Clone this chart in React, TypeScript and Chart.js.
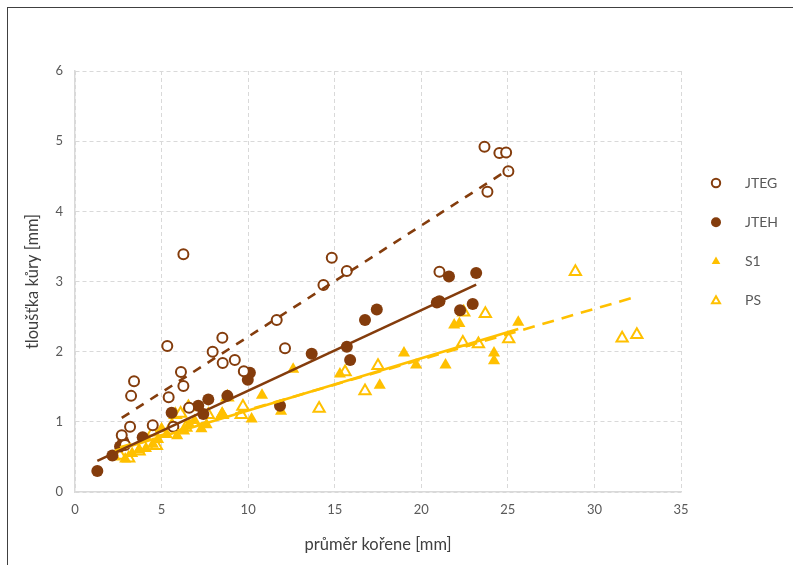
import React, { useEffect, useRef } from 'react';
import { Chart, registerables } from 'chart.js';
import { drawPoint } from 'chart.js/helpers';

Chart.register(...registerables);

// ---- data ----
const jtegX = [2.70, 2.89, 3.18, 3.24, 3.41, 4.49, 5.33, 5.41, 5.68, 6.12, 6.26, 6.26, 6.59, 7.95, 8.51, 8.53, 9.23, 9.75, 11.65, 12.13, 14.35, 14.83, 15.7, 21.05, 23.65, 23.82, 24.51, 24.9, 25.03];
const jtegY = [0.81, 0.67, 0.93, 1.37, 1.58, 0.95, 2.08, 1.35, 0.93, 1.71, 1.51, 3.39, 1.20, 2.00, 2.20, 1.84, 1.88, 1.72, 2.45, 2.05, 2.95, 3.34, 3.15, 3.14, 4.92, 4.28, 4.83, 4.84, 4.57];

const jtehX = [1.29, 2.16, 2.6, 2.79, 3.91, 5.58, 7.12, 7.41, 7.70, 8.8, 9.98, 10.1, 11.84, 13.67, 15.7, 15.89, 16.75, 17.43, 20.9, 21.05, 21.6, 22.24, 22.97, 23.17];
const jtehY = [0.30, 0.52, 0.65, 0.72, 0.78, 1.13, 1.23, 1.11, 1.32, 1.37, 1.60, 1.70, 1.23, 1.97, 2.07, 1.88, 2.45, 2.60, 2.70, 2.72, 3.07, 2.59, 2.68, 3.12];

const s1X = [2.3, 2.9, 3.3, 3.7, 4.1, 4.5, 4.8, 5.0, 5.3, 5.6, 5.9, 6.3, 6.6, 6.9, 7.3, 7.6, 8.5, 10.2, 10.8, 11.9, 12.6, 15.3, 17.6, 19.0, 19.7, 21.4, 21.9, 22.2, 24.2, 24.2, 25.6];
const s1Y = [0.50, 0.47, 0.55, 0.60, 0.62, 0.68, 0.75, 0.90, 0.82, 0.97, 0.80, 0.87, 0.97, 1.02, 0.90, 0.96, 1.12, 1.04, 1.38, 1.15, 1.75, 1.68, 1.52, 1.98, 1.81, 1.81, 2.38, 2.40, 1.98, 1.87, 2.42];

const psX = [2.6, 3.1, 3.7, 4.5, 4.7, 5.8, 6.1, 6.4, 6.55, 7.7, 8.5, 8.8, 9.6, 9.7, 14.1, 15.6, 16.75, 17.5, 22.4, 22.45, 23.3, 23.7, 25.05, 28.9, 31.6, 32.45];
const psY = [0.52, 0.48, 0.58, 0.85, 0.66, 1.10, 1.12, 0.92, 1.21, 1.10, 1.10, 1.35, 1.10, 1.22, 1.19, 1.71, 1.44, 1.80, 2.13, 2.56, 2.11, 2.54, 2.18, 3.14, 2.19, 2.24];

// trend line end points (x, y)
const jtegTrendX = [2.70, 25.03];
const jtegTrendY = [1.056, 4.595];
const jtehTrendX = [1.29, 23.17];
const jtehTrendY = [0.444, 2.956];
const s1TrendX = [2.3, 25.6];
const s1TrendY = [0.588, 2.324];
const psTrendX = [2.6, 32.45];
const psTrendY = [0.637, 2.786];

const seriesNames = ['JTEG', 'JTEH', 'S1', 'PS'];
const xTitle = 'průměr kořene [mm]';
const yTitle = 'tloušťka kůry [mm]';
const xMin = 0, xMax = 35, xStep = 5;
const yMin = 0, yMax = 6, yStep = 1;

const BROWN = '#843c0c';
const GOLD = '#ffc000';
const TEXT = '#595959';
const GRID = '#d9d9d9';
const FONT = 'Lato, "Open Sans", sans-serif';

const pts = (xs: number[], ys: number[]) => xs.map((x, i) => ({ x, y: ys[i] }));

const legendPlugin = {
  id: 'customLegend',
  afterDraw(chart: any) {
    const ctx = chart.ctx;
    const area = chart.chartArea;
    const items = chart.data.datasets.filter((d: any) => d.legendItem);
    ctx.save();
    items.forEach((d: any, i: number) => {
      const y = 183 + i * 39.3;
      const x = area.right + 35;
      ctx.fillStyle = d.backgroundColor;
      ctx.strokeStyle = d.borderColor;
      ctx.lineWidth = d.pointBorderWidthLegend;
      drawPoint(ctx, { pointStyle: d.pointStyle, rotation: 0, radius: d.legendRadius, borderWidth: d.pointBorderWidthLegend }, x, y);
      ctx.fillStyle = TEXT;
      ctx.font = '14px ' + FONT;
      ctx.textAlign = 'left';
      ctx.textBaseline = 'middle';
      ctx.fillText(d.label, x + 29, y);
    });
    ctx.restore();
  },
};

export default function App() {
  const ref = useRef<HTMLCanvasElement | null>(null);
  useEffect(() => {
    if (!ref.current) return;
    const trend = (xs: number[], ys: number[], color: string, dash: number[]) => ({
      type: 'line' as const,
      label: '',
      data: pts(xs, ys),
      borderColor: color,
      backgroundColor: color,
      borderWidth: 2.6,
      borderDash: dash,
      pointRadius: 0,
      showLine: true,
      fill: false,
      legendItem: false,
    });
    const chart = new Chart(ref.current, {
      type: 'scatter',
      data: {
        datasets: [
          trend(jtegTrendX, jtegTrendY, BROWN, [9, 8]),
          trend(jtehTrendX, jtehTrendY, BROWN, []),
          trend(psTrendX, psTrendY, GOLD, [12, 8]),
          trend(s1TrendX, s1TrendY, GOLD, []),
          {
            label: seriesNames[0], data: pts(jtegX, jtegY), pointStyle: 'circle', pointRadius: 5,
            backgroundColor: '#ffffff', borderColor: BROWN, pointBorderWidth: 2, borderWidth: 2,
            legendItem: true, pointBorderWidthLegend: 2, legendRadius: 4.2,
          } as any,
          {
            label: seriesNames[1], data: pts(jtehX, jtehY), pointStyle: 'circle', pointRadius: 6,
            backgroundColor: BROWN, borderColor: BROWN, pointBorderWidth: 0, borderWidth: 0,
            legendItem: true, pointBorderWidthLegend: 0, legendRadius: 5,
          } as any,
          {
            label: seriesNames[2], data: pts(s1X, s1Y), pointStyle: 'triangle', pointRadius: 7,
            backgroundColor: GOLD, borderColor: GOLD, pointBorderWidth: 0, borderWidth: 0,
            legendItem: true, pointBorderWidthLegend: 0, legendRadius: 5,
          } as any,
          {
            label: seriesNames[3], data: pts(psX, psY), pointStyle: 'triangle', pointRadius: 6.5,
            backgroundColor: '#ffffff', borderColor: GOLD, pointBorderWidth: 2, borderWidth: 2,
            legendItem: true, pointBorderWidthLegend: 2, legendRadius: 4.6,
          } as any,
        ] as any,
      },
      options: {
        responsive: false,
        animation: false,
        events: [],
        layout: { padding: { left: 0, top: 71, right: 112, bottom: 0 } },
        plugins: { legend: { display: false }, tooltip: { enabled: false } },
        scales: {
          x: {
            type: 'linear', min: xMin, max: xMax,
            ticks: { stepSize: xStep, color: TEXT, font: { family: FONT, size: 13 }, padding: 10 },
            grid: { color: GRID, lineWidth: 1, drawTicks: false },
            border: { display: true, color: GRID, width: 1.5, dash: [4, 3] },
            title: { display: true, text: xTitle, color: '#404040', font: { family: FONT, size: 16.5 }, padding: { top: 0, bottom: 10 } },
            afterFit: (s: any) => { s.height = 73; },
          },
          y: {
            type: 'linear', min: yMin, max: yMax,
            ticks: { stepSize: yStep, color: TEXT, font: { family: FONT, size: 13 }, padding: 12 },
            grid: { color: GRID, lineWidth: 1, drawTicks: false },
            border: { display: true, color: GRID, width: 1.5, dash: [4, 3] },
            title: { display: true, text: yTitle, color: '#404040', font: { family: FONT, size: 16.5 }, padding: { top: 23, bottom: 0 } },
            afterFit: (s: any) => { s.width = 75; },
          },
        },
      } as any,
      plugins: [legendPlugin],
    });
    return () => chart.destroy();
  }, []);

  return (
    <div style={{ position: 'fixed', left: 0, top: 0, width: 793, height: 565, background: '#ffffff', overflow: 'hidden' }}>
      <canvas ref={ref} width={793} height={565} style={{ position: 'absolute', left: 0, top: 0 }} />
      <div style={{ position: 'absolute', left: 7, top: 7, width: 900, height: 700, border: '1.5px solid #404040', pointerEvents: 'none' }} />
    </div>
  );
}
